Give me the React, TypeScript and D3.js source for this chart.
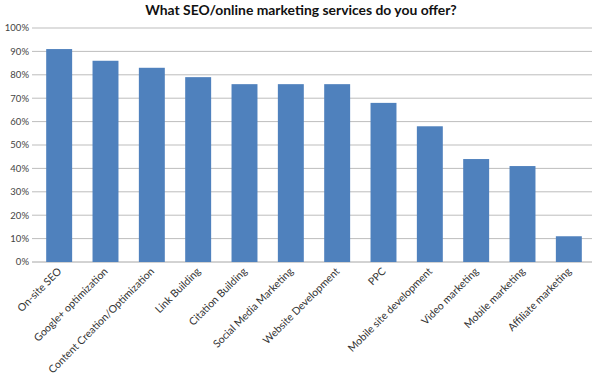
import React from 'react';
import * as d3 from 'd3';

// data
const categories = [
  'On-site SEO', 'Google+ optimization', 'Content Creation/Optimization', 'Link Building',
  'Citation Building', 'Social Media Marketing', 'Website Development', 'PPC',
  'Mobile site development', 'Video marketing', 'Mobile marketing', 'Affiliate marketing',
];
const shares = [91, 86, 83, 79, 76, 76, 76, 68, 58, 44, 41, 11];
const yTicks = [0, 10, 20, 30, 40, 50, 60, 70, 80, 90, 100];

// layout
const width = 600;
const height = 386;
const margin = { top: 28, right: 8, bottom: 124, left: 36 };
const font = 'Lato, "Open Sans", sans-serif';

const App = () => {
  const x = d3.scaleBand<string>()
    .domain(categories)
    .range([margin.left, width - margin.right])
    .paddingInner(0.44)
    .paddingOuter(0.22);
  const y = d3.scaleLinear()
    .domain([0, 100])
    .range([height - margin.bottom, margin.top]);

  return (
    <svg width={width} height={height} style={{ position: 'absolute', left: 0, top: 0, background: '#fff' }}>
      <text x={301} y={15} textAnchor="middle" fontFamily={font} fontWeight="bold" fontSize={13.9} fill="#111">
        What SEO/online marketing services do you offer?
      </text>

      {/* grid + y labels */}
      {yTicks.map(t => (
        <g key={t}>
          <line x1={margin.left - 4} x2={width - margin.right} y1={y(t)} y2={y(t)}
            stroke={t === 0 ? '#a6a6a6' : '#bdbdbd'} strokeWidth={1} />
          <text x={margin.left - 7} y={y(t)} dy="0.35em" textAnchor="end" fontFamily={font}
            fontSize={9.5} fill="#444">{t}%</text>
        </g>
      ))}

      {/* bars */}
      {categories.map((c, i) => (
        <rect key={c} x={x(c)} y={y(shares[i])} width={x.bandwidth()}
          height={y(0) - y(shares[i])} fill="#4f81bd" />
      ))}

      {/* x labels */}
      {categories.map(c => {
        const cx = (x(c) as number) + x.bandwidth() / 2 + 3;
        const cy = y(0) + 10;
        return (
          <text key={c} transform={`translate(${cx},${cy}) rotate(-45)`} textAnchor="end"
            fontFamily={font} fontSize={10.5} fill="#333">{c}</text>
        );
      })}
    </svg>
  );
};

export default App;
